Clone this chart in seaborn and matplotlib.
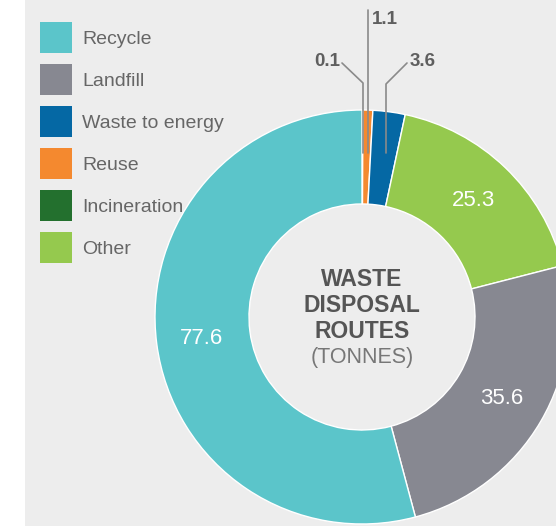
import matplotlib
matplotlib.use("Agg")
import matplotlib.pyplot as plt
from matplotlib.patches import Patch, Rectangle
import seaborn as sns

# data, in the order the slices run clockwise from 12 o'clock
routes = ["Incineration", "Reuse", "Waste to energy", "Other", "Landfill", "Recycle"]
tonnes = [0.1, 1.1, 3.6, 25.3, 35.6, 77.6]
route_colors = ["#23702e", "#f4892f", "#0568a4", "#95c94e", "#878891", "#5bc5ca"]
legend_order = ["Recycle", "Landfill", "Waste to energy", "Reuse", "Incineration", "Other"]
small_labels = ["0.1", "1.1", "3.6"]

sns.set_theme(style="white")
plt.rcParams["font.family"] = ["Liberation Sans", "DejaVu Sans"]

W, H = 556, 526
fig = plt.figure(figsize=(W / 100, H / 100), dpi=100, facecolor="white")
# grey panel, white strip on the left
fig.patches.append(Rectangle((25 / W, 0), 1, 1, transform=fig.transFigure,
                             facecolor="#ededed", edgecolor="none", zorder=-5))
ax = fig.add_axes([0, 0, 1, 1])
ax.set_facecolor("none")

total = sum(tonnes)
cx, cy, r = 362, H - 317, 207

wedges, _, autotexts = ax.pie(
    tonnes, colors=route_colors, startangle=90, counterclock=False,
    radius=r, center=(cx, cy),
    wedgeprops=dict(width=94, edgecolor="white", linewidth=1),
    autopct=lambda p: f"{p * total / 100:.1f}" if p > 5 else "",
    pctdistance=0.78, textprops=dict(color="white", fontsize=16))

ax.set_xlim(0, W)
ax.set_ylim(0, H)
ax.set_aspect("equal")
ax.axis("off")

# centre title
title_kw = dict(ha="center", va="center", fontsize=16.5, fontweight="bold", color="#555555")
ax.text(cx, H - 279, "WASTE", **title_kw)
ax.text(cx, H - 306, "DISPOSAL", **title_kw)
ax.text(cx, H - 332, "ROUTES", **title_kw)
ax.text(cx, H - 357, "(TONNES)", ha="center", va="center", fontsize=15.5, color="#777777")

# callouts for the thin slices
line_kw = dict(color="#8a8a8a", lw=1.2, zorder=5)
ax.plot([342, 363, 363], [H - 63, H - 83, H - 153], **line_kw)
ax.plot([367.5, 367.5], [H - 10, H - 153], **line_kw)
ax.plot([407, 386, 386], [H - 63, H - 84, H - 153], **line_kw)
ax.text(340, H - 62, small_labels[0], ha="right", va="center", fontsize=13.5, fontweight="bold", color="#5f5f5f")
ax.text(372, H - 20, small_labels[1], ha="left", va="center", fontsize=13.5, fontweight="bold", color="#5f5f5f")
ax.text(410, H - 62, small_labels[2], ha="left", va="center", fontsize=13.5, fontweight="bold", color="#5f5f5f")

# legend
color_of = dict(zip(routes, route_colors))
handles = [Patch(facecolor=color_of[name], edgecolor="none") for name in legend_order]
fs = 14
px = fs * 100 / 72
fig.legend(handles, legend_order, loc="upper left", bbox_to_anchor=(40 / W, 1 - 22 / H),
           frameon=False, fontsize=fs, labelcolor="#666666", borderpad=0, borderaxespad=0,
           handlelength=32 / px, handleheight=2.08, labelspacing=11 / px,
           handletextpad=10 / px)

fig.savefig("out.png", dpi=100, facecolor=fig.get_facecolor())
